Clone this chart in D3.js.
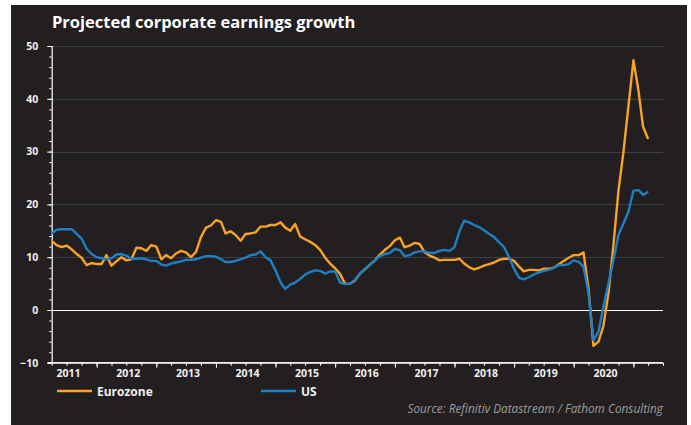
<!DOCTYPE html>
<html>
<head>
<meta charset="utf-8">
<script src="https://cdn.jsdelivr.net/npm/d3@7"></script>
<style>
  html, body { margin: 0; padding: 0; background: #ffffff; }
  svg { display: block; }
  text { font-family: "Open Sans", "DejaVu Sans", sans-serif; }
</style>
</head>
<body>
<svg id="chart" width="691" height="425"></svg>
<script>
// Monthly forward earnings growth (%), first observation April 2011
const firstMonth = "2011-04";

const eurozone = [
  13.1, 12.3, 11.9, 12.2, 11.5, 10.6, 9.9, 8.5, 8.9, 8.7, 8.7, 10.4,
  8.4, 9.2, 10.0, 9.4, 9.6, 11.8, 11.7, 11.2, 12.3, 12.0, 9.6, 10.4,
  9.8, 10.7, 11.2, 10.9, 10.0, 11.0, 13.8, 15.6, 16.0, 17.0, 16.7, 14.5,
  14.9, 14.2, 13.1, 14.4, 14.5, 14.7, 15.8, 15.8, 16.1, 16.1, 16.6, 15.6,
  15.0, 16.3, 13.9, 13.4, 12.9, 12.3, 11.4, 9.9, 8.8, 7.9, 6.8, 5.0,
  4.95, 5.6, 6.9, 7.7, 8.6, 9.4, 10.5, 11.4, 12.1, 13.2, 13.7, 11.9,
  12.2, 12.7, 12.5, 11.0, 10.3, 9.9, 9.4, 9.5, 9.5, 9.5, 9.7, 8.8,
  8.1, 7.7, 8.0, 8.4, 8.7, 9.0, 9.5, 9.7, 9.7, 9.3, 8.2, 7.3,
  7.6, 7.6, 7.5, 7.8, 7.8, 8.0, 8.6, 9.3, 9.9, 10.4, 10.4, 10.9,
  4.0, -6.8, -6.0, -3.0, 3.2, 12.5, 22.5, 30.0, 38.5, 47.3, 41.5, 34.7,
  32.4
];

const us = [
  14.5, 15.2, 15.3, 15.3, 15.3, 14.4, 13.5, 11.6, 10.6, 10.0, 9.8, 9.6,
  9.8, 10.5, 10.6, 10.3, 9.7, 9.7, 9.8, 9.6, 9.3, 9.3, 8.6, 8.4,
  8.8, 9.0, 9.2, 9.5, 9.5, 9.6, 9.9, 10.2, 10.2, 10.1, 9.6, 9.1,
  9.1, 9.3, 9.6, 9.9, 10.4, 10.5, 11.1, 10.0, 9.4, 7.5, 5.2, 4.0,
  4.8, 5.2, 5.9, 6.7, 7.2, 7.5, 7.4, 6.9, 7.3, 7.3, 5.2, 4.9,
  5.0, 5.7, 6.9, 7.8, 8.6, 9.4, 10.2, 10.6, 10.8, 11.6, 11.3, 10.2,
  10.4, 10.9, 11.1, 11.1, 10.8, 10.8, 11.2, 11.4, 11.2, 11.9, 15.0, 16.9,
  16.6, 16.1, 15.7, 15.1, 14.4, 13.8, 12.8, 11.9, 10.0, 7.8, 6.1, 5.8,
  6.2, 6.7, 7.1, 7.4, 7.6, 8.0, 8.5, 8.5, 8.7, 9.4, 9.1, 8.2,
  3.2, -5.7, -4.1, 0.6, 5.0, 9.5, 14.2, 16.4, 18.6, 22.6, 22.7, 21.8,
  22.4
];

const seriesNames = ["Eurozone", "US"];
const seriesColors = ["#f7a325", "#1f7fc4"];
const yearLabels = [2011, 2012, 2013, 2014, 2015, 2016, 2017, 2018, 2019, 2020];
const yTicks = [-10, 0, 10, 20, 30, 40, 50];
const titleText = "Projected corporate earnings growth";
const sourceText = "Source: Refinitiv Datastream / Fathom Consulting";

const parseMonth = d3.timeParse("%Y-%m");
const start = parseMonth(firstMonth);
const dates = eurozone.map((_, i) => d3.timeMonth.offset(start, i));

const svg = d3.select("#chart");
const W = 691, H = 425;

// dark panel
svg.append("rect")
  .attr("x", 11).attr("y", 5)
  .attr("width", 676).attr("height", H - 5)
  .attr("fill", "#231f20");

const plot = { left: 51.7, right: 663, top: 46, bottom: 362.8 };

const x = d3.scaleTime()
  .domain([new Date(2011, 3, 1), new Date(2021, 6, 1)])
  .range([plot.left, plot.right]);

const y = d3.scaleLinear()
  .domain([-10, 50])
  .range([plot.bottom, plot.top]);

// title
svg.append("text")
  .attr("x", 52).attr("y", 28)
  .attr("fill", "#ffffff")
  .attr("font-size", 16.5)
  .attr("font-weight", 700)
  .text(titleText);

// horizontal gridlines
svg.append("g")
  .selectAll("line")
  .data(yTicks.filter(v => v > 0))
  .join("line")
  .attr("x1", plot.left).attr("x2", plot.right)
  .attr("y1", d => Math.round(y(d)) + 0.5).attr("y2", d => Math.round(y(d)) + 0.5)
  .attr("stroke", "#3a4146")
  .attr("stroke-width", 1);

// zero line
svg.append("line")
  .attr("x1", plot.left).attr("x2", plot.right)
  .attr("y1", Math.round(y(0)) + 0.5).attr("y2", Math.round(y(0)) + 0.5)
  .attr("stroke", "#ffffff")
  .attr("stroke-width", 1.2);

// y axis: major ticks every 10, minor every 2
const yAxisG = svg.append("g")
  .attr("transform", `translate(${plot.left},0)`);
yAxisG.call(d3.axisLeft(y).tickValues(d3.range(-10, 51, 2)).tickSize(2.5).tickFormat(""));
yAxisG.append("g").call(d3.axisLeft(y).tickValues(yTicks).tickSize(4.5).tickPadding(9)
  .tickFormat(d3.format("d")));
yAxisG.selectAll("path.domain").attr("stroke", "#ffffff").attr("stroke-width", 1.2);
yAxisG.selectAll(".tick line").attr("stroke", "#ffffff").attr("stroke-width", 1);
yAxisG.selectAll(".tick text")
  .attr("fill", "#f0f0f0")
  .attr("font-size", 10.5)
  .attr("font-weight", 700)
  .attr("font-family", "'Open Sans', sans-serif");
yAxisG.selectAll("path.domain").filter((d, i) => i > 0).remove();

// x axis: yearly major ticks, quarterly minor ticks
const xAxisG = svg.append("g")
  .attr("transform", `translate(0,${plot.bottom})`);
xAxisG.call(d3.axisBottom(x).ticks(d3.timeMonth.every(3)).tickSize(3).tickFormat("")
  .tickSizeOuter(0));
xAxisG.append("g").call(d3.axisBottom(x).ticks(d3.timeYear.every(1)).tickSize(5).tickFormat("")
  .tickSizeOuter(0));
xAxisG.selectAll("path.domain").attr("stroke", "#ffffff").attr("stroke-width", 1.2)
  .attr("d", `M${plot.left - 4},0H${plot.right}`);
xAxisG.selectAll(".tick line").attr("stroke", "#ffffff").attr("stroke-width", 1);

// year labels centred on each year
svg.append("g")
  .selectAll("text")
  .data(yearLabels)
  .join("text")
  .attr("x", d => x(new Date(d, 6, 1)) + 2)
  .attr("y", 377)
  .attr("text-anchor", "middle")
  .attr("fill", "#f0f0f0")
  .attr("font-size", 10.5)
  .attr("font-weight", 700)
  .text(d => d);

// series lines
const line = d3.line()
  .x((d, i) => x(dates[i]))
  .y(d => y(d));

[eurozone, us].forEach((vals, k) => {
  svg.append("path")
    .datum(vals)
    .attr("fill", "none")
    .attr("stroke", seriesColors[k])
    .attr("stroke-width", 2.4)
    .attr("stroke-linejoin", "round")
    .attr("d", line);
});

// legend
const legendX = [57, 261];
seriesNames.forEach((name, k) => {
  const g = svg.append("g").attr("transform", `translate(${legendX[k]},391)`);
  g.append("line")
    .attr("x1", 0).attr("x2", 35)
    .attr("y1", 0).attr("y2", 0)
    .attr("stroke", seriesColors[k])
    .attr("stroke-width", 2.6);
  g.append("text")
    .attr("x", 40).attr("y", 4.5)
    .attr("fill", "#f0f0f0")
    .attr("font-size", 12)
    .attr("font-weight", 700)
    .text(name);
});

// source note
svg.append("text")
  .attr("x", 663).attr("y", 413)
  .attr("text-anchor", "end")
  .attr("fill", "#9d9d9d")
  .attr("font-size", 11.8)
  .attr("font-style", "italic")
  .text(sourceText);
</script>
</body>
</html>
